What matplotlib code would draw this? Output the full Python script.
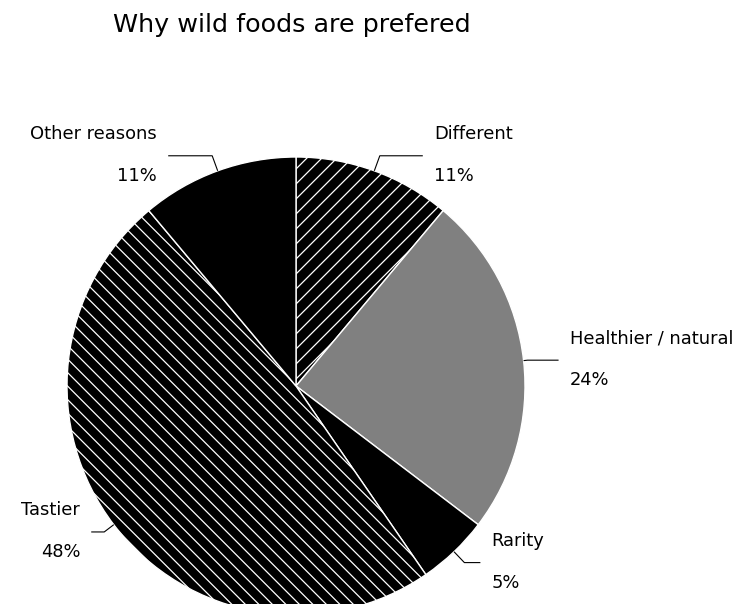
import numpy as np
import matplotlib
matplotlib.use("Agg")
import matplotlib.pyplot as plt

# Survey shares: reasons wild foods are preferred
labels = ["Different", "Healthier / natural", "Rarity", "Tastier", "Other reasons"]
shares = [11, 24, 5, 48, 11]

# wedge styling: fill, hatch direction (+1 = "/", -1 = "\"), hatch gap in px
faces = ["black", "#808080", "black", "black", "black"]
hatch_dir = [1, 0, 0, -1, 0]
hatch_gap = [15, 0, 0, 13.5, 0]
# leader lines: radial stub and horizontal run, in pixels
stub = [16, 4, 15, 12, 16]
run = [43, 31, 16, 13, 44]

plt.rcParams["font.family"] = ["DejaVu Sans"]

DPI = 100
W, H = 743, 604
fig = plt.figure(figsize=(W / DPI, H / DPI), dpi=DPI)
ax = fig.add_axes([0, 0, 1, 1])

cx, cy, R = 296, H - 386, 229
wedges, _ = ax.pie(shares, center=(cx, cy), radius=R, startangle=90,
                   counterclock=False, colors=faces,
                   wedgeprops=dict(edgecolor="white", linewidth=1.0))

ax.set_xlim(0, W)
ax.set_ylim(0, H)
ax.set_aspect("equal")
ax.axis("off")

# diagonal white hatching, clipped to each wedge
xs = np.array([cx - R - 5, cx + R + 5])
for w, d, gap in zip(wedges, hatch_dir, hatch_gap):
    if not d:
        continue
    for c in np.arange(-2 * R, 2 * R, gap):
        ln, = ax.plot(xs, cy + d * (xs - cx) + c, color="white", lw=0.9,
                      zorder=w.get_zorder() + 0.1)
        ln.set_clip_path(w)

for w, lab, pct, s, r in zip(wedges, labels, shares, stub, run):
    mid = np.deg2rad((w.theta1 + w.theta2) / 2)
    ux, uy = np.cos(mid), np.sin(mid)
    x0, y0 = cx + R * ux, cy + R * uy
    x1, y1 = x0 + s * ux, y0 + s * uy
    side = 1 if ux >= 0 else -1
    x2 = x1 + side * r
    ax.plot([x0, x1, x2], [y0, y1, y1], color="black", lw=0.8,
            solid_capstyle="butt")
    tx = x2 + side * 11
    ha = "left" if side > 0 else "right"
    ax.text(tx, y1 + 17, lab, ha=ha, va="baseline", fontsize=12.9)
    ax.text(tx, y1 - 25, f"{pct}%", ha=ha, va="baseline", fontsize=12.9)

ax.text(292, H - 32, "Why wild foods are prefered", ha="center",
        va="baseline", fontsize=18.3)

fig.savefig("out.png", dpi=DPI, facecolor="white")
